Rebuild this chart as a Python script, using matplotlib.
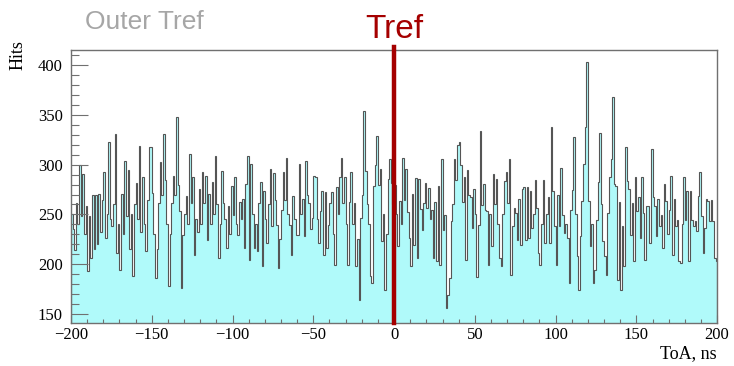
import numpy as np
import matplotlib
matplotlib.use("Agg")
import matplotlib.pyplot as plt
from matplotlib.ticker import MultipleLocator

# ToA histogram, 1 ns bins from -200 to 200 ns
bin_edges = np.arange(-200, 201, 1)
hits = [
    # -200 .. -181
    250, 235, 214, 262, 240, 300, 248, 291, 230, 258, 193, 248, 206, 270, 215, 270, 220, 271, 232, 265,
    # -180 .. -161
    293, 226, 250, 323, 245, 238, 260, 331, 211, 240, 194, 271, 230, 304, 248, 295, 215, 250, 188, 260,
    # -160 .. -141
    282, 245, 319, 232, 288, 240, 213, 265, 318, 318, 272, 230, 186, 215, 262, 303, 270, 331, 285, 240,
    # -140 .. -121
    178, 230, 262, 289, 270, 348, 280, 253, 176, 229, 250, 269, 240, 311, 262, 288, 209, 245, 232, 276,
    # -120 .. -101
    240, 293, 262, 289, 224, 271, 240, 283, 250, 309, 260, 206, 240, 294, 262, 245, 216, 258, 230, 279,
    # -100 .. -81
    249, 288, 240, 229, 263, 245, 266, 216, 281, 309, 204, 301, 250, 216, 240, 213, 261, 283, 198, 274,
    # -80 .. -61
    245, 221, 260, 296, 238, 292, 265, 239, 196, 225, 254, 293, 265, 307, 250, 239, 209, 269, 245, 229,
    # -60 .. -41
    229, 301, 250, 266, 228, 304, 270, 261, 235, 246, 289, 288, 245, 221, 253, 274, 209, 273, 216, 239,
    # -40 .. -21
    261, 273, 230, 199, 278, 250, 288, 307, 262, 288, 240, 199, 263, 293, 240, 261, 198, 225, 164, 246,
    # -20 .. -1
    270, 354, 294, 260, 240, 188, 181, 279, 300, 329, 280, 296, 223, 250, 174, 230, 286, 306, 282, 260,
    # 0 .. 19
    280, 250, 218, 264, 240, 307, 265, 296, 252, 226, 198, 271, 219, 287, 206, 286, 255, 234, 262, 282,
    # 20 .. 39
    256, 277, 245, 254, 206, 263, 203, 279, 199, 306, 234, 249, 156, 169, 186, 243, 260, 306, 285, 320,
    # 40 .. 59
    323, 300, 263, 288, 204, 295, 270, 268, 236, 276, 250, 187, 239, 334, 259, 281, 254, 253, 199, 250,
    # 60 .. 79
    218, 291, 260, 286, 240, 206, 198, 250, 284, 293, 262, 306, 189, 238, 256, 251, 224, 266, 219, 276,
    # 80 .. 99
    278, 224, 278, 226, 274, 236, 250, 285, 256, 211, 199, 240, 285, 221, 250, 268, 221, 338, 274, 238,
    # 100 .. 119
    199, 270, 238, 297, 249, 231, 240, 226, 181, 254, 275, 328, 250, 208, 174, 228, 264, 301, 338, 403,
    # 120 .. 139
    264, 218, 240, 181, 194, 244, 283, 332, 260, 223, 208, 189, 251, 288, 306, 368, 281, 279, 184, 263,
    # 140 .. 159
    174, 238, 198, 318, 284, 276, 229, 261, 203, 288, 253, 268, 226, 288, 251, 204, 258, 258, 221, 316,
    # 160 .. 179
    268, 258, 228, 266, 238, 249, 216, 281, 264, 230, 254, 289, 209, 266, 238, 244, 203, 201, 240, 288,
    # 180 .. 199
    244, 274, 203, 274, 244, 238, 243, 233, 269, 293, 248, 211, 236, 266, 264, 243, 265, 243, 206, 203,
]

fill_color = "#b0fafa"
line_color = "#555555"
tref_color = "#a50000"
frame_color = "#707070"

fig = plt.figure(figsize=(7.34, 3.66), dpi=100)
ax = fig.add_axes([0.0967, 0.1175, 0.8803, 0.7455])

ax.stairs(hits, bin_edges, fill=True, color=fill_color, lw=0)
ax.stairs(hits, bin_edges, color=line_color, lw=0.8)

ax.set_xlim(-200, 200)
ax.set_ylim(141, 415)

# reference time marker
ax.axvline(0, ymin=0, ymax=1.012, color=tref_color, lw=3.2, clip_on=False, zorder=5)

serif = ["Liberation Serif", "DejaVu Serif"]
ax.xaxis.set_major_locator(MultipleLocator(50))
ax.xaxis.set_minor_locator(MultipleLocator(10))
ax.yaxis.set_major_locator(MultipleLocator(50))
ax.yaxis.set_minor_locator(MultipleLocator(10))
ax.tick_params(axis="x", which="major", direction="in", length=6, width=0.8,
               color=frame_color, pad=3, labelsize=12)
ax.tick_params(axis="x", which="minor", direction="in", length=3, width=0.8, color=frame_color)
ax.tick_params(axis="y", which="major", direction="in", length=12, width=0.8,
               color=frame_color, pad=6, labelsize=12)
ax.tick_params(axis="y", which="minor", direction="in", length=6, width=0.8, color=frame_color)
for lab in ax.get_xticklabels() + ax.get_yticklabels():
    lab.set_family(serif)
ax.set_xticks(np.arange(-200, 201, 50))
ax.set_xticklabels(["\u2212200", "\u2212150", "\u2212100", "\u221250", "0", "50", "100", "150", "200"],
                   family=serif)
for s in ax.spines.values():
    s.set_color(frame_color)
    s.set_linewidth(1.0)

fig.text(0.977, 0.022, "ToA, ns", ha="right", va="baseline", fontsize=13, family=serif)
fig.text(0.024, 0.891, "Hits", ha="center", va="top", rotation=90, fontsize=13, family=serif)

fig.text(0.116, 0.92, "Outer Tref", ha="left", va="baseline", fontsize=19,
         color="#a6a6a6", family=["Liberation Sans", "DejaVu Sans"])
# Tref label sits 12 px above the frame
ax.text(0, 1.0 + 12 / 273, "Tref", transform=ax.get_xaxis_transform(), ha="center",
        va="baseline", fontsize=24, color=tref_color,
        family=["Liberation Sans Narrow", "Liberation Sans", "DejaVu Sans"])

fig.savefig("out.png", dpi=100)
